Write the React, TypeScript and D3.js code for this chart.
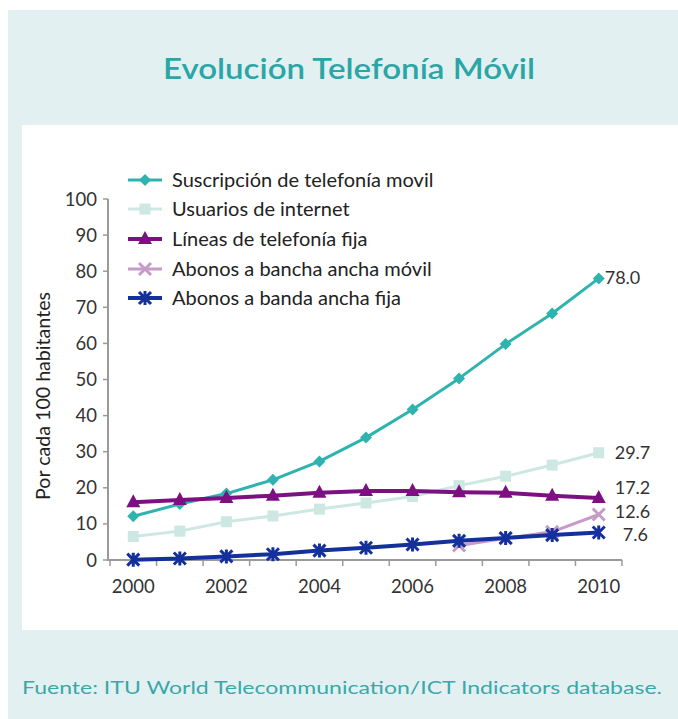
import React from "react";
import * as d3 from "d3";

const years = [2000, 2001, 2002, 2003, 2004, 2005, 2006, 2007, 2008, 2009, 2010];
const yTicks = [0, 10, 20, 30, 40, 50, 60, 70, 80, 90, 100];
const xLabels = [2000, 2002, 2004, 2006, 2008, 2010];

const movil = [12.1, 15.5, 18.4, 22.2, 27.3, 33.9, 41.7, 50.3, 59.8, 68.3, 78.0];
const internet = [6.5, 8.0, 10.6, 12.2, 14.1, 15.8, 17.6, 20.6, 23.2, 26.3, 29.7];
const fija = [16.0, 16.6, 17.2, 17.8, 18.6, 19.1, 19.1, 18.8, 18.6, 17.8, 17.2];
const bandaMovil: (number | null)[] = [null, null, null, null, null, null, null, 4.0, 6.0, 7.8, 12.6];
const bandaFija = [0.1, 0.4, 1.0, 1.6, 2.6, 3.4, 4.3, 5.3, 6.1, 6.9, 7.6];

const legendNames = [
  "Suscripción de telefonía movil",
  "Usuarios de internet",
  "Líneas de telefonía fija",
  "Abonos a bancha ancha móvil",
  "Abonos a banda ancha fija",
];
const endLabels = ["78.0", "29.7", "17.2", "12.6", "7.6"];

type Series = {
  name: string;
  values: (number | null)[];
  color: string;
  width: number;
  marker: string;
  label: string;
  labelDx: number;
  labelDy: number;
};

const series: Series[] = [
  { name: legendNames[0], values: movil, color: "#2fb3ae", width: 3, marker: "diamond", label: endLabels[0], labelDx: 6, labelDy: 0 },
  { name: legendNames[1], values: internet, color: "#cde7e3", width: 3, marker: "square", label: endLabels[1], labelDx: 16, labelDy: 0 },
  { name: legendNames[2], values: fija, color: "#7d0f80", width: 4, marker: "triangle", label: endLabels[2], labelDx: 16, labelDy: -10 },
  { name: legendNames[3], values: bandaMovil, color: "#c79bc8", width: 3, marker: "x", label: endLabels[3], labelDx: 16, labelDy: -3 },
  { name: legendNames[4], values: bandaFija, color: "#13309c", width: 4, marker: "star", label: endLabels[4], labelDx: 24, labelDy: 2 },
];

const drawOrder = [1, 0, 2, 3, 4];

const FONT = "Lato, 'Open Sans', sans-serif";

function Marker({ type, x, y, color }: { type: string; x: number; y: number; color: string }) {
  if (type === "diamond") {
    const s = 6;
    return <path d={`M${x},${y - s}L${x + s},${y}L${x},${y + s}L${x - s},${y}Z`} fill={color} />;
  }
  if (type === "square") {
    return <rect x={x - 5.5} y={y - 5.5} width={11} height={11} fill={color} />;
  }
  if (type === "triangle") {
    return <path d={`M${x},${y - 8}L${x + 7},${y + 5}L${x - 7},${y + 5}Z`} fill={color} />;
  }
  if (type === "x") {
    const s = 6;
    return (
      <path d={`M${x - s},${y - s}L${x + s},${y + s}M${x - s},${y + s}L${x + s},${y - s}`} stroke={color} strokeWidth={3} fill="none" />
    );
  }
  const s = 6;
  return (
    <path
      d={`M${x - s},${y - s}L${x + s},${y + s}M${x - s},${y + s}L${x + s},${y - s}M${x},${y - s - 1}L${x},${y + s + 1}`}
      stroke={color}
      strokeWidth={3}
      fill="none"
    />
  );
}

export default function App() {
  const W = 678;
  const H = 719;
  const x = d3.scalePoint<number>().domain(years).range([110, 622]).padding(0.5);
  const y = d3.scaleLinear().domain([0, 100]).range([560, 199]);
  const step = x.step();
  const boundaries = d3.range(years.length + 1).map((i) => 110 + i * step);

  const line = d3
    .line<number | null>()
    .defined((d) => d !== null)
    .x((_, i) => x(years[i]) as number)
    .y((d) => y(d as number));

  const legendY = [180, 209, 239, 269, 298];

  return (
    <svg width={W} height={H} style={{ position: "absolute", left: 0, top: 0 }}>
      <rect x={0} y={0} width={W} height={H} fill="#ffffff" />
      <rect x={8} y={10} width={W - 8} height={H - 10} fill="#e3f0f2" />
      <rect x={22} y={125} width={W - 22} height={505} fill="#ffffff" />

      <text x={349} y={79} textAnchor="middle" fontFamily={FONT} fontSize={28} fontWeight={600} fill="#2aa6a6" textLength={372} lengthAdjust="spacingAndGlyphs">
        Evolución Telefonía Móvil
      </text>

      {/* Y axis */}
      <line x1={108} y1={199} x2={108} y2={561} stroke="#9a9a9a" strokeWidth={2} />
      {yTicks.map((t) => (
        <g key={t}>
          <line x1={103} x2={108} y1={y(t)} y2={y(t)} stroke="#9a9a9a" strokeWidth={1.5} />
          <text x={97} y={y(t) + 6.5} textAnchor="end" fontFamily={FONT} fontSize={18.5} fill="#333">
            {t}
          </text>
        </g>
      ))}
      <text
        transform="translate(50,396) rotate(-90)"
        textAnchor="middle"
        fontFamily={FONT}
        fontSize={19}
        fill="#222"
        textLength={208}
        lengthAdjust="spacingAndGlyphs"
      >
        Por cada 100 habitantes
      </text>

      {/* X axis */}
      <line x1={108} y1={560} x2={622} y2={560} stroke="#9a9a9a" strokeWidth={2} />
      {boundaries.map((b, i) => (
        <line key={i} x1={b} x2={b} y1={560} y2={566} stroke="#9a9a9a" strokeWidth={1.5} />
      ))}
      {xLabels.map((yr) => (
        <text key={yr} x={x(yr)} y={593} textAnchor="middle" fontFamily={FONT} fontSize={18.5} fill="#333">
          {yr}
        </text>
      ))}

      {/* Series */}
      {drawOrder.map((si) => {
        const s = series[si];
        return (
          <g key={s.name}>
            <path d={line(s.values) || ""} fill="none" stroke={s.color} strokeWidth={s.width} strokeLinejoin="round" />
            {s.values.map((v, i) =>
              v === null ? null : <Marker key={i} type={s.marker} x={x(years[i]) as number} y={y(v)} color={s.color} />
            )}
          </g>
        );
      })}

      {/* End labels */}
      {series.map((s) => {
        const last = s.values[s.values.length - 1] as number;
        return (
          <text key={s.label} x={(x(2010) as number) + s.labelDx} y={y(last) + 6 + s.labelDy} fontFamily={FONT} fontSize={18} fill="#333">
            {s.label}
          </text>
        );
      })}

      {/* Legend */}
      {series.map((s, i) => (
        <g key={s.name}>
          <line x1={128} x2={162} y1={legendY[i]} y2={legendY[i]} stroke={s.color} strokeWidth={s.width} />
          <Marker type={s.marker} x={145} y={legendY[i]} color={s.color} />
          <text x={172} y={legendY[i] + 7} fontFamily={FONT} fontSize={20} fill="#222">
            {s.name}
          </text>
        </g>
      ))}

      <text x={22} y={694} fontFamily={FONT} fontSize={17} fill="#3aa8a8" textLength={640} lengthAdjust="spacingAndGlyphs">
        Fuente:  ITU World Telecommunication/ICT Indicators database.
      </text>
    </svg>
  );
}
